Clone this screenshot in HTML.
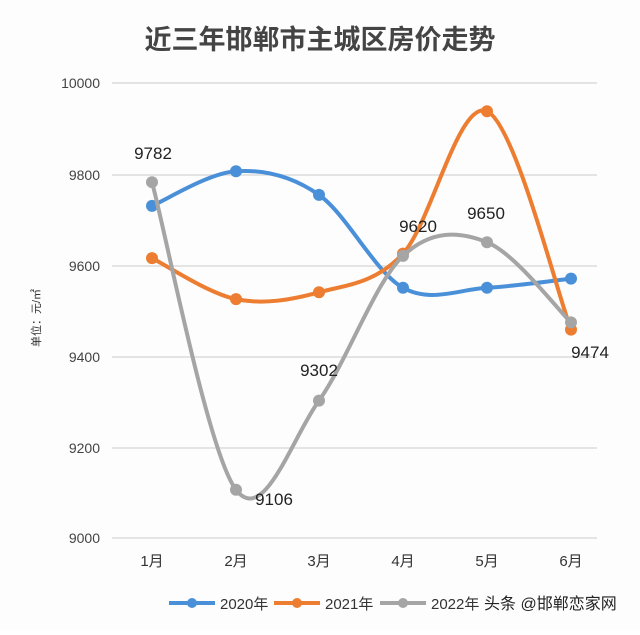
<!DOCTYPE html>
<html><head><meta charset="utf-8"><style>
body{margin:0;background:#fff;width:640px;height:630px;overflow:hidden;font-family:"Liberation Sans","Noto Sans CJK SC",sans-serif}
</style></head><body>
<svg id="s" width="640" height="630" xmlns="http://www.w3.org/2000/svg" font-family="Liberation Sans, Noto Sans CJK SC, sans-serif">
<rect width="640" height="630" fill="#fdfdfd"/>
<text x="320" y="49" text-anchor="middle" font-size="27" font-weight="bold" fill="#444">近三年邯郸市主城区房价走势</text>
<g stroke="#dcdcdc" stroke-width="1.5">
<line x1="112" x2="597" y1="83" y2="83"/><line x1="112" x2="597" y1="175" y2="175"/>
<line x1="112" x2="597" y1="266" y2="266"/><line x1="112" x2="597" y1="357" y2="357"/>
<line x1="112" x2="597" y1="448" y2="448"/><line x1="112" x2="597" y1="538" y2="538"/>
</g>
<g font-size="14" fill="#444" text-anchor="end">
<text x="100" y="88">10000</text><text x="100" y="180">9800</text><text x="100" y="271">9600</text>
<text x="100" y="362">9400</text><text x="100" y="453">9200</text><text x="100" y="543">9000</text>
</g>
<text transform="translate(40,318) rotate(-90)" text-anchor="middle" font-size="11" fill="#333">单位：元/㎡</text>
<g font-size="15" fill="#333" text-anchor="middle">
<text x="152" y="566">1月</text><text x="236" y="566">2月</text><text x="319" y="566">3月</text>
<text x="403" y="566">4月</text><text x="487" y="566">5月</text><text x="571" y="566">6月</text>
</g>
<g id="series"></g>
<g font-size="17" fill="#222" text-anchor="middle">
<text x="153" y="159">9782</text><text x="274" y="505">9106</text><text x="319" y="376">9302</text>
<text x="418" y="232">9620</text><text x="486" y="219">9650</text><text x="590" y="358">9474</text>
</g>
<g font-size="15" fill="#333">
<line x1="169" x2="215" y1="603" y2="603" stroke="#4a90d9" stroke-width="4"/><circle cx="192" cy="603" r="5" fill="#4a90d9"/>
<text x="220" y="609">2020年</text>
<line x1="274" x2="320" y1="603" y2="603" stroke="#ed7d31" stroke-width="4"/><circle cx="297" cy="603" r="5" fill="#ed7d31"/>
<text x="325" y="609">2021年</text>
<line x1="380" x2="426" y1="603" y2="603" stroke="#a5a5a5" stroke-width="4"/><circle cx="403" cy="603" r="5" fill="#a5a5a5"/>
<text x="431" y="609">2022年</text>
<text x="484" y="609" font-size="16" fill="#222">头条 @邯郸恋家网</text>
</g>
</svg>
<script>
var xs=[152,236,319,403,487,571];
function Y(v){return 538-(v-9000)*0.455;}
var data=[["#4a90d9",[9730,9806,9754,9550,9550,9570]],["#ed7d31",[9615,9525,9540,9625,9938,9458]],["#a5a5a5",[9782,9106,9302,9620,9650,9474]]];
var g=document.getElementById("series"),h="";
data.forEach(function(d){
 var p=d[1].map(function(v,i){return [xs[i],Y(v)];});
 var s="M"+p[0][0]+","+p[0][1];
 for(var i=0;i<p.length-1;i++){
  var p0=p[Math.max(i-1,0)],p1=p[i],p2=p[i+1],p3=p[Math.min(i+2,p.length-1)],t=1/6;
  var c1=[p1[0]+(p2[0]-p0[0])*t,p1[1]+(p2[1]-p0[1])*t];
  var c2=[p2[0]-(p3[0]-p1[0])*t,p2[1]-(p3[1]-p1[1])*t];
  s+=" C"+c1+" "+c2+" "+p2;
 }
 h+='<path d="'+s+'" fill="none" stroke="'+d[0]+'" stroke-width="4"/>';
 p.forEach(function(q){h+='<circle cx="'+q[0]+'" cy="'+q[1]+'" r="6" fill="'+d[0]+'"/>';});
});
g.innerHTML=h;
</script>
</body></html>
